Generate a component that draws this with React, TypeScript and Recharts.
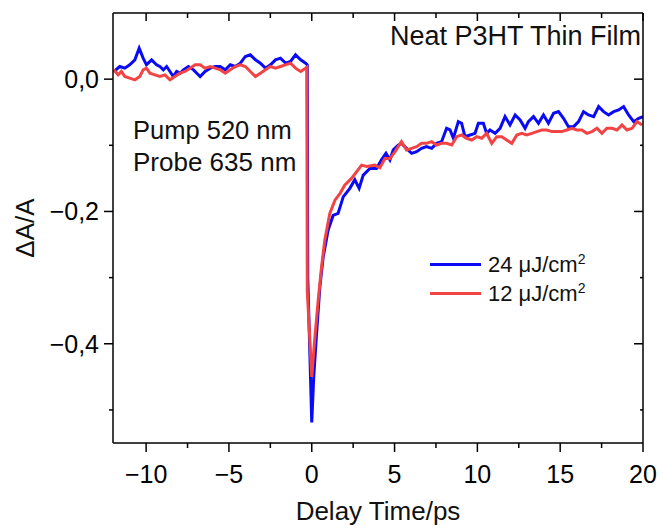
import React from "react";
import { LineChart, Line, XAxis, YAxis } from "recharts";

// 24 uJ/cm2 trace (blue)
const blueTime = [
  -11.95, -11.59, -11.29, -10.99, -10.68, -10.42, -10.18, -9.98, -9.67, -9.37,
  -9.17, -8.96, -8.76, -8.56, -8.36, -8.16, -7.95, -7.75, -7.45, -7.14, -6.94,
  -6.74, -6.44, -6.13, -5.83, -5.53, -5.22, -4.92, -4.62, -4.31, -4.01, -3.71,
  -3.4, -3.1, -2.8, -2.49, -2.19, -1.89, -1.58, -1.28, -0.98, -0.67, -0.37,
  -0.27, -0.24, 0.0, 0.12, 0.29, 0.49, 0.69, 0.99, 1.29, 1.59, 1.9, 2.3, 2.6,
  2.86, 3.11, 3.51, 3.91, 4.21, 4.48, 4.72, 4.92, 5.22, 5.42, 5.72, 6.03, 6.33,
  6.63, 6.93, 7.24, 7.54, 7.84, 8.14, 8.35, 8.55, 8.85, 9.05, 9.25, 9.56, 9.86,
  10.06, 10.36, 10.56, 10.76, 11.07, 11.37, 11.67, 11.97, 12.28, 12.58, 12.88,
  13.08, 13.39, 13.69, 13.99, 14.29, 14.6, 14.9, 15.2, 15.5, 15.81, 16.11,
  16.41, 16.71, 17.02, 17.32, 17.62, 17.92, 18.23, 18.53, 18.83, 19.13, 19.44,
  19.74, 20.0,
];
const blueSignal = [
  0.0116, 0.0191, 0.0166, 0.0217, 0.0292, 0.0469, 0.0318, 0.0217, 0.0292,
  0.0217, 0.0191, 0.0141, 0.0191, 0.0116, 0.004, 0.0116, 0.009, 0.0141, 0.0191,
  0.0141, 0.009, 0.004, 0.0116, 0.0166, 0.0191, 0.0191, 0.0141, 0.0217, 0.0191,
  0.0242, 0.0343, 0.0368, 0.0292, 0.0242, 0.0166, 0.0217, 0.0292, 0.0318,
  0.0242, 0.0267, 0.0368, 0.0292, 0.0242, 0.0217, -0.3, -0.519, -0.45, -0.385,
  -0.314, -0.269, -0.228, -0.206, -0.203, -0.178, -0.165, -0.152, -0.165,
  -0.145, -0.135, -0.135, -0.122, -0.112, -0.122, -0.107, -0.1, -0.097, -0.1046,
  -0.1122, -0.1096, -0.1046, -0.1021, -0.1046, -0.097, -0.0945, -0.0743,
  -0.0768, -0.0894, -0.0642, -0.0667, -0.0869, -0.0844, -0.0819, -0.0667,
  -0.0667, -0.0819, -0.0768, -0.0819, -0.0743, -0.0566, -0.0692, -0.0541,
  -0.0617, -0.0743, -0.0642, -0.0566, -0.0667, -0.0541, -0.0667, -0.0516,
  -0.0491, -0.0591, -0.0718, -0.0718, -0.0642, -0.0491, -0.0541, -0.0566,
  -0.0415, -0.0491, -0.0541, -0.0491, -0.0465, -0.0415, -0.0541, -0.0642,
  -0.0591, -0.0566,
];

// 12 uJ/cm2 trace (red)
const redTime = [
  -11.96, -11.69, -11.49, -11.29, -10.99, -10.68, -10.38, -10.18, -9.98, -9.77,
  -9.47, -9.17, -8.86, -8.56, -8.26, -7.95, -7.65, -7.35, -7.04, -6.74, -6.44,
  -6.13, -5.83, -5.53, -5.22, -4.92, -4.62, -4.31, -4.01, -3.71, -3.4, -3.1,
  -2.8, -2.49, -2.19, -1.89, -1.58, -1.28, -0.98, -0.67, -0.37, -0.3, -0.27, 0.0,
  0.19, 0.39, 0.59, 0.79, 1.09, 1.4, 1.7, 2.0, 2.4, 3.01, 3.31, 3.81, 4.11,
  4.42, 4.72, 5.02, 5.42, 5.72, 6.03, 6.33, 6.63, 6.93, 7.24, 7.54, 7.84, 8.14,
  8.45, 8.75, 9.05, 9.35, 9.66, 9.96, 10.26, 10.56, 10.87, 11.17, 11.47, 11.77,
  12.08, 12.38, 12.68, 12.98, 13.29, 13.59, 13.89, 14.19, 14.5, 14.8, 15.1,
  15.4, 15.71, 16.01, 16.31, 16.61, 16.92, 17.22, 17.52, 17.82, 18.13, 18.43,
  18.73, 19.03, 19.34, 19.64, 19.94,
];
const redSignal = [
  0.0141, 0.0065, 0.0116, 0.004, 0.0015, -0.001, 0.004, 0.0141, 0.0166, 0.009,
  0.0065, 0.004, 0.0065, -0.001, 0.004, 0.009, 0.0116, 0.0166, 0.0217, 0.0217,
  0.0166, 0.0191, 0.0166, 0.0141, 0.009, 0.0141, 0.0191, 0.0217, 0.0191, 0.0116,
  0.004, 0.009, 0.0141, 0.0191, 0.0166, 0.0191, 0.0217, 0.0242, 0.0166, 0.0116,
  0.0166, 0.018, -0.32, -0.45, -0.39, -0.334, -0.284, -0.243, -0.203, -0.183,
  -0.173, -0.16, -0.15, -0.13, -0.132, -0.13, -0.134, -0.12, -0.12, -0.11,
  -0.0945, -0.1071, -0.1046, -0.1021, -0.097, -0.097, -0.0945, -0.0995, -0.097,
  -0.097, -0.0995, -0.0869, -0.0844, -0.0894, -0.092, -0.0869, -0.0894, -0.0819,
  -0.097, -0.0869, -0.0869, -0.092, -0.097, -0.0844, -0.0819, -0.0844, -0.0819,
  -0.0793, -0.0768, -0.0768, -0.0793, -0.0793, -0.0793, -0.0768, -0.0743,
  -0.0768, -0.0768, -0.0819, -0.0793, -0.0743, -0.0819, -0.0743, -0.0743,
  -0.0768, -0.0692, -0.0768, -0.0743, -0.0642, -0.0692,
];

const xTicks = [-10, -7.5, -5, -2.5, 0, 2.5, 5, 7.5, 10, 12.5, 15, 17.5, 20];
const yTicks = [0, -0.1, -0.2, -0.3, -0.4, -0.5];
const seriesNames = ["24 \u03bcJ/cm", "12 \u03bcJ/cm"];

const blueData = blueTime.map((t, i) => ({ t, v: blueSignal[i] }));
const redData = redTime.map((t, i) => ({ t, v: redSignal[i] }));

const FONT = "'Liberation Sans', Arial, sans-serif";
const BLUE = "#0a0af5";
const RED = "#f24444";

const isMajorX = (v: number) => Math.abs(v % 5) < 1e-6;
const isMajorY = (v: number) => Math.abs(Math.round(v * 10) % 2) === 0;
const fmtY = (v: number) =>
  v.toFixed(1).replace(".", ",").replace("-", "\u2212");
const fmtX = (v: number) => String(v).replace("-", "\u2212");

const BottomTick = (props: any) => {
  const { x, y, payload } = props;
  const major = isMajorX(payload.value);
  return (
    <g>
      <line x1={x} y1={y} x2={x} y2={y + (major ? 9 : 5)} stroke="#000" strokeWidth={1.5} />
      {major && (
        <text x={x} y={y + 40} textAnchor="middle" fontSize={25} fontFamily={FONT} fill="#000">
          {fmtX(payload.value)}
        </text>
      )}
    </g>
  );
};

const TopTick = (props: any) => {
  const { x, y, payload } = props;
  const major = isMajorX(payload.value);
  return <line x1={x} y1={y} x2={x} y2={y + (major ? 8 : 5)} stroke="#000" strokeWidth={1.5} />;
};

const LeftTick = (props: any) => {
  const { x, y, payload } = props;
  const major = isMajorY(payload.value);
  return (
    <g>
      <line x1={x} y1={y} x2={x - (major ? 9 : 4)} y2={y} stroke="#000" strokeWidth={1.5} />
      {major && (
        <text x={x - 14} y={y + 9} textAnchor="end" fontSize={25} fontFamily={FONT} fill="#000">
          {fmtY(payload.value)}
        </text>
      )}
    </g>
  );
};

const RightTick = (props: any) => {
  const { x, y, payload } = props;
  const major = isMajorY(payload.value);
  return <line x1={x} y1={y} x2={x - (major ? 9 : 3)} y2={y} stroke="#000" strokeWidth={1.5} />;
};

const LegendBox = () => (
  <div
    style={{
      position: "absolute",
      left: 430,
      top: 250,
      fontFamily: FONT,
      fontSize: 22,
      color: "#111",
      pointerEvents: "none",
    }}
  >
    {[BLUE, RED].map((c, i) => (
      <div key={i} style={{ display: "flex", alignItems: "center", height: 29 }}>
        <span style={{ display: "inline-block", width: 51, height: 3, background: c, marginRight: 7 }} />
        <span>
          {seriesNames[i]}
          <sup style={{ fontSize: 14 }}>2</sup>
        </span>
      </div>
    ))}
  </div>
);

export default function App() {
  return (
    <div style={{ position: "absolute", left: 0, top: 0, width: 663, height: 531, background: "#fff" }}>
      <LineChart
        width={663}
        height={531}
        margin={{ top: 12, right: 19, left: 53, bottom: 28 }}
      >
        <XAxis
          dataKey="t"
          type="number"
          domain={[-12, 20]}
          ticks={xTicks}
          allowDataOverflow
          height={60}
          tickSize={0}
          tickMargin={0}
          tickLine={false}
          tick={<BottomTick />}
          stroke="#000"
          strokeWidth={1.5}
          interval={0}
        />
        <XAxis
          xAxisId="top"
          dataKey="t"
          orientation="top"
          type="number"
          domain={[-12, 20]}
          ticks={xTicks}
          allowDataOverflow
          height={1}
          tickSize={0}
          tickMargin={0}
          tickLine={false}
          tick={<TopTick />}
          stroke="#000"
          strokeWidth={1.5}
          interval={0}
        />
        <YAxis
          type="number"
          domain={[-0.55, 0.1]}
          ticks={yTicks}
          allowDataOverflow
          width={60}
          tickSize={0}
          tickMargin={0}
          tickLine={false}
          tick={<LeftTick />}
          stroke="#000"
          strokeWidth={1.5}
          interval={0}
        />
        <YAxis
          yAxisId="right"
          orientation="right"
          type="number"
          domain={[-0.55, 0.1]}
          ticks={yTicks}
          allowDataOverflow
          width={1}
          tickSize={0}
          tickMargin={0}
          tickLine={false}
          tick={<RightTick />}
          stroke="#000"
          strokeWidth={1.5}
          interval={0}
        />
        <Line
          data={blueData}
          dataKey="v"
          type="linear"
          stroke={BLUE}
          strokeWidth={3}
          dot={false}
          isAnimationActive={false}
        />
        <Line
          data={redData}
          dataKey="v"
          xAxisId="top"
          yAxisId="right"
          type="linear"
          stroke={RED}
          strokeWidth={3}
          dot={false}
          isAnimationActive={false}
        />
      </LineChart>
      <LegendBox />
      <svg
        width={663}
        height={531}
        style={{ position: "absolute", left: 0, top: 0, pointerEvents: "none" }}
        fontFamily={FONT}
        fill="#111"
      >
        <text x={641} y={45} textAnchor="end" fontSize={27}>
          Neat P3HT Thin Film
        </text>
        <text x={133} y={139} fontSize={25.5}>
          Pump 520 nm
        </text>
        <text x={133} y={171} fontSize={26}>
          Probe 635 nm
        </text>
        <text x={378} y={520} textAnchor="middle" fontSize={26}>
          Delay Time/ps
        </text>
        <text
          x={0}
          y={0}
          textAnchor="middle"
          fontSize={26}
          transform="translate(34 228) rotate(-90)"
        >
          {"\u0394A/A"}
        </text>
      </svg>
    </div>
  );
}
